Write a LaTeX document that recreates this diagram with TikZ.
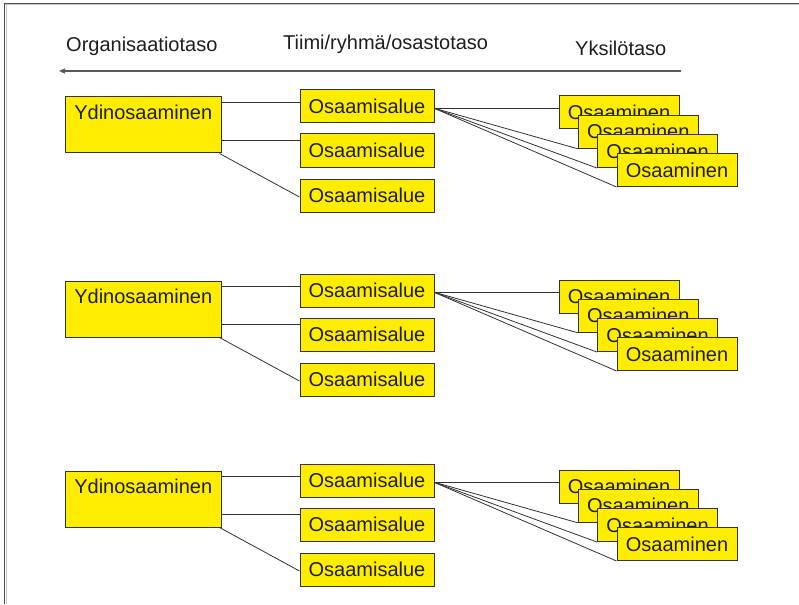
\documentclass[tikz,border=0pt]{standalone}
\usepackage{fontspec}
\setmainfont{Liberation Sans}
\usetikzlibrary{arrows.meta,backgrounds}

\definecolor{boxyellow}{HTML}{FFED00}
\definecolor{edge}{HTML}{333333}
\definecolor{ink}{HTML}{1E1E1E}
\definecolor{framegray}{HTML}{505050}
\definecolor{framelight}{HTML}{C8C8C8}
\definecolor{axisgray}{HTML}{5A5A5A}

\tikzset{
  box/.style={draw=edge, line width=1pt, fill=boxyellow, inner sep=0pt,
              text=ink, font=\fontsize{20}{24}\selectfont},
  corebox/.style={box, minimum width=155.5pt, text height=22.5pt, text depth=33.5pt},
  areabox/.style={box, minimum width=134pt, minimum height=33pt},
  skillbox/.style={box, minimum width=120pt, minimum height=33pt},
  link/.style={draw=edge, line width=0.8pt},
  heading/.style={anchor=base west, inner sep=0pt, text=ink,
                  font=\fontsize{20}{24}\selectfont},
  axis/.style={draw=axisgray, line width=1.2pt,
               -{Triangle[length=6pt,width=5pt]}},
}

\begin{document}
\begin{tikzpicture}[x=1pt, y=-1pt]
  \useasboundingbox (0,0) rectangle (799,604);

  % frame edges (top and left)
  \draw[framelight, line width=1pt] (5,5) -- (799,5);
  \draw[framelight, line width=1pt] (6,5) -- (6,604);
  \draw[framegray, line width=1.3pt] (4,3.5) -- (799,3.5);
  \draw[framegray, line width=1.3pt] (4.5,3) -- (4.5,604);

  % level headings and direction axis
  \node[heading] (hOrg) at (66,52) {Organisaatiotaso};
  \node[heading] (hTeam) at (283,50) {Tiimi/ryhmä/osastotaso};
  \node[heading] (hInd) at (575,56) {Yksilötaso};
  \coordinate (axisR) at (681,71);
  \coordinate (axisL) at (59,71);
  \draw[axis] (axisR) -- (axisL);

  % three identical groups: core competence -> areas -> individual competences
  \foreach \g/\dy in {1/0, 2/184, 3/374} {
    \node[corebox] (y\g) at (143.25,125+\dy) {Ydinosaaminen};
    \node[areabox] (a\g) at (367,106.5+\dy) {Osaamisalue};
    \node[areabox] (b\g) at (367,150.5+\dy) {Osaamisalue};
    \node[areabox] (c\g) at (367,195.5+\dy) {Osaamisalue};
    \node[skillbox] (k\g1) at (619,112.5+\dy) {Osaaminen};
    \node[skillbox] (k\g2) at (638.3,131.8+\dy) {Osaaminen};
    \node[skillbox] (k\g3) at (657.6,151.1+\dy) {Osaaminen};
    \node[skillbox] (k\g4) at (677,170+\dy) {Osaaminen};

    \begin{scope}[on background layer]
      \draw[link] ([yshift=-6pt]y\g.north east) -- ([yshift=-6pt]y\g.north east -| a\g.west);
      \draw[link] ([yshift=-44pt]y\g.north east) -- ([yshift=-44pt]y\g.north east -| b\g.west);
      \draw[link] ([xshift=-2pt]y\g.south east) -- ([yshift=-1.5pt]c\g.west);
      \coordinate (s\g) at ([xshift=-1pt,yshift=-1.5pt]a\g.east);
      \draw[link] (s\g) -- (s\g -| k\g1.west);
      \draw[link] (s\g) -- (k\g2.south west);
      \draw[link] (s\g) -- (k\g3.south west);
      \draw[link] (s\g) -- (k\g4.south west);
    \end{scope}
  }
\end{tikzpicture}
\end{document}
